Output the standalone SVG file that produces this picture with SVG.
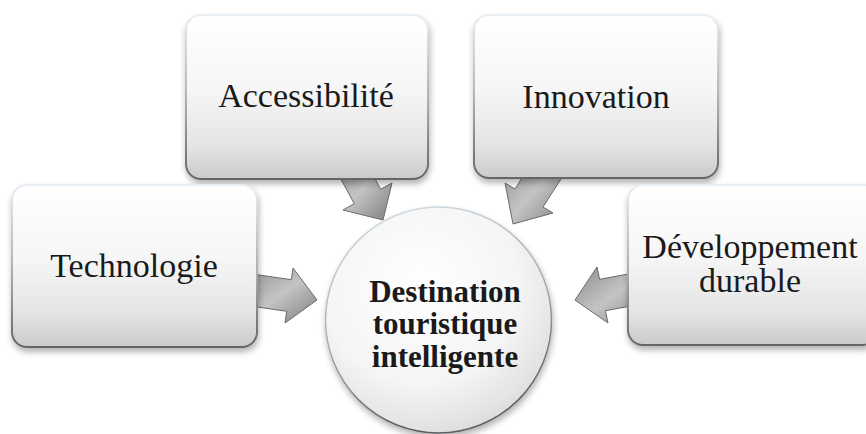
<svg xmlns="http://www.w3.org/2000/svg" width="866" height="434" viewBox="0 0 866 434">
  <defs>
    <linearGradient id="boxFill" x1="0" y1="0" x2="0" y2="1">
      <stop offset="0" stop-color="#ffffff"/>
      <stop offset="0.45" stop-color="#f6f6f6"/>
      <stop offset="0.8" stop-color="#e4e4e4"/>
      <stop offset="1" stop-color="#cacaca"/>
    </linearGradient>
    <linearGradient id="boxStroke" x1="0" y1="0" x2="0" y2="1">
      <stop offset="0" stop-color="#e8eff4"/>
      <stop offset="0.5" stop-color="#b0b4b8"/>
      <stop offset="1" stop-color="#62666a"/>
    </linearGradient>
    <radialGradient id="circFill" cx="0.42" cy="0.35" r="0.72">
      <stop offset="0" stop-color="#ffffff"/>
      <stop offset="0.6" stop-color="#f5f5f5"/>
      <stop offset="0.88" stop-color="#e2e2e2"/>
      <stop offset="1" stop-color="#d2d2d2"/>
    </radialGradient>
    <linearGradient id="circStroke" x1="0" y1="0" x2="0.3" y2="1">
      <stop offset="0" stop-color="#d8e4ec"/>
      <stop offset="0.6" stop-color="#a0a8ae"/>
      <stop offset="1" stop-color="#5a6064"/>
    </linearGradient>
    <linearGradient id="arrowFill" x1="0" y1="0" x2="1" y2="1">
      <stop offset="0" stop-color="#8c8c8c"/>
      <stop offset="0.5" stop-color="#c4c4c4"/>
      <stop offset="1" stop-color="#7e7e7e"/>
    </linearGradient>
    <filter id="shadow" x="-10%" y="-10%" width="120%" height="130%">
      <feGaussianBlur in="SourceAlpha" stdDeviation="3"/>
      <feOffset dx="1" dy="4" result="b"/>
      <feComponentTransfer><feFuncA type="linear" slope="0.3"/></feComponentTransfer>
      <feMerge><feMergeNode/><feMergeNode in="SourceGraphic"/></feMerge>
    </filter>
  </defs>
  <style>
    .box { fill: url(#boxFill); stroke: url(#boxStroke); stroke-width: 2; filter: url(#shadow); }
    .circ { fill: url(#circFill); stroke: url(#circStroke); stroke-width: 1.5; filter: url(#shadow); }
    .arrow { fill: url(#arrowFill); stroke: #6a6a6a; stroke-width: 1; stroke-linejoin: miter; }
    .lbl { font-family: "Liberation Serif", "Times New Roman", serif; font-size: 34px; fill: #1a1a1a; text-anchor: middle; }
    .ctr { font-family: "Liberation Serif", "Times New Roman", serif; font-size: 31px; font-weight: bold; fill: #1a1a1a; text-anchor: middle; }
  </style>
  <rect width="866" height="434" fill="#ffffff"/>

  <g id="connectors">
    <polygon class="arrow" points="361.5,154.2 380.7,189.3 392,183 383,220 343,210 354.3,203.7 335.1,168.6"/>
    <polygon class="arrow" points="568,168 543,207 553,213 513,224 505,183 515,189 538,152"/>
    <polygon class="arrow" points="246.8,273.2 291.3,279.7 293,268 317,300 285,323 286.7,311.3 242.2,304.8"/>
    <polygon class="arrow" points="648.8,270.3 599.6,279.3 597,267 575,300 608,323 605.4,310.7 654.6,301.7"/>
  </g>

  <g id="node-accessibilite">
    <rect class="box" x="186" y="15" width="242" height="164" rx="15"/>
    <text class="lbl" x="306" y="107">Accessibilité</text>
  </g>
  <g id="node-innovation">
    <rect class="box" x="474" y="15" width="244" height="163" rx="15"/>
    <text class="lbl" x="596" y="108">Innovation</text>
  </g>
  <g id="node-technologie">
    <rect class="box" x="12" y="185" width="245" height="162" rx="15"/>
    <text class="lbl" x="134" y="277">Technologie</text>
  </g>
  <g id="node-developpement">
    <rect class="box" x="628" y="185" width="250" height="160" rx="15"/>
    <text class="lbl" x="750" y="258">Développement</text>
    <text class="lbl" x="750" y="292">durable</text>
  </g>
  <g id="node-destination">
    <circle class="circ" cx="438.5" cy="320" r="113"/>
    <text class="ctr" x="445" y="302">Destination</text>
    <text class="ctr" x="445" y="334">touristique</text>
    <text class="ctr" x="445" y="367">intelligente</text>
  </g>
</svg>
